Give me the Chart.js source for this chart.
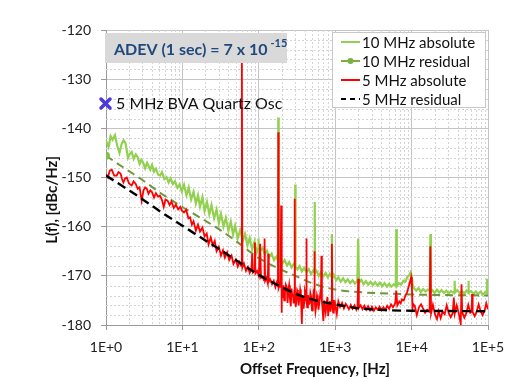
<!DOCTYPE html>
<html>
<head>
<meta charset="utf-8">
<script src="https://cdn.jsdelivr.net/npm/chart.js@4/dist/chart.umd.min.js"></script>
<style>
  html, body { margin: 0; padding: 0; background: #fff; }
  #wrap { width: 518px; height: 379px; position: relative; }
</style>
</head>
<body>
<div id="wrap"><canvas id="pn"></canvas></div>
<script>
// tick values
var xTicks = [1, 10, 100, 1000, 10000, 100000];
var yMin = -180, yMax = -120;

// residual (smooth) curves
var fRes = [1, 2, 3, 5, 10, 20, 30, 50, 100, 200, 300, 500, 1000, 2000, 5000, 10000, 100000];
var l10res = [-145.6, -148.7, -150.5, -153.0, -156.0, -158.8, -160.5, -162.9, -166.4, -168.8, -170.0, -171.5, -172.8, -173.3, -173.6, -173.8, -174.0];
var l5res = [-149.6, -152.6, -154.4, -156.8, -159.8, -162.8, -164.5, -166.8, -169.8, -172.3, -173.6, -174.8, -175.8, -176.6, -177.0, -177.1, -177.2];

// 10 MHz absolute (measured)
var f10abs = [1, 1.08, 1.15, 1.22, 1.31, 1.4, 1.5, 1.6, 1.7, 1.8, 1.94, 2.05, 2.17, 2.3, 2.45, 2.6, 2.75, 2.9, 3.05, 3.25,
  3.45, 3.6, 3.8, 4.0, 4.25, 4.5, 4.8, 5.1, 5.4, 5.8, 6.2, 6.6, 7.0, 7.5, 8.0, 8.6, 9.2, 9.8,
  10.5, 11.3, 12.1, 13, 14, 15, 16, 17, 18.3, 19.5, 21, 22.5, 24, 26, 28, 30, 32, 34.5, 37, 40, 43, 46, 49, 53, 57,
  62, 66, 71, 76, 82, 88, 94, 98.5, 99, 99.5,
  105, 112, 120, 128, 137, 147, 158, 170, 178, 180, 182, 190, 204, 218, 234, 250, 268, 287, 297, 300, 303,
  320, 342, 366, 392, 420, 450, 482, 515, 535, 540, 545, 570, 610, 655, 700, 750, 800, 850, 895, 905, 915, 960,
  1030, 1100, 1180, 1270, 1360, 1460, 1570, 1690, 1810, 1950, 2000, 2050, 2200, 2350, 2520, 2700, 2900, 3110, 3330,
  3580, 3840, 4120, 4420, 4740, 5080, 5450, 5850, 6200, 6300, 6400, 6800, 7300, 7800, 8300, 8800, 9300, 9700, 10000,
  10300, 10800, 11500, 12300, 13200, 14200, 15200, 16300, 17300, 17600, 17900, 18700, 20000, 21500, 23000, 24700,
  26500, 28400, 30500, 32700, 35000, 36200, 36600, 37000, 39500, 42400, 45500, 48800, 52300, 55200, 55600, 56000,
  60000, 64500, 69200, 74300, 79700, 85500, 91700, 96000, 97000, 98000, 100000];
var l10abs = [-142.5, -143.8, -141.6, -142.3, -141.4, -143.5, -145.0, -143.2, -142.4, -143.0, -146.0, -145.2, -144.8, -146.2, -145.3, -145.9, -147.2, -146.4, -146.9, -148.1,
  -147.0, -147.6, -148.4, -147.5, -148.8, -148.2, -149.4, -149.6, -148.9, -150.3, -149.9, -151.0, -150.2, -151.3, -150.8, -152.1, -151.4, -152.8,
  -151.5, -153.6, -152.0, -154.5, -152.9, -155.3, -153.6, -155.9, -154.0, -156.8, -155.0, -157.5, -155.6, -158.3, -156.5, -159.3, -157.4, -160.0, -158.2, -160.8, -159.0, -161.6, -159.8, -162.4, -160.7,
  -162.8, -161.5, -163.8, -162.3, -164.6, -163.0, -165.3, -164.3, -162.4, -164.6,
  -164.9, -164.3, -165.6, -164.9, -166.2, -165.5, -166.8, -166.1, -166.9, -137.8, -167.0, -166.4, -167.5, -166.8, -167.9, -167.2, -168.3, -167.6, -168.0, -151.4, -168.2,
  -168.7, -168.0, -169.1, -168.4, -169.3, -168.6, -169.6, -168.9, -169.3, -155.0, -169.4, -169.0, -170.0, -169.2, -170.1, -169.4, -170.3, -169.6, -170.2, -161.5, -170.5, -169.8,
  -170.9, -170.3, -171.2, -170.5, -171.3, -170.7, -171.5, -170.9, -171.6, -171.0, -162.4, -171.4, -170.8, -171.7, -171.1, -171.8, -171.2, -171.9, -171.3,
  -172.0, -171.4, -172.1, -171.5, -172.2, -171.6, -172.2, -171.7, -172.0, -160.5, -172.1, -171.5, -171.8, -171.0, -171.2, -170.2, -169.9, -169.3, -170.0,
  -171.8, -172.6, -173.0, -172.5, -173.3, -172.7, -173.2, -172.8, -173.1, -161.5, -173.3, -172.9, -173.5, -172.8, -173.4, -172.9,
  -173.5, -173.0, -173.6, -173.1, -173.4, -173.2, -171.0, -173.4, -172.9, -173.5, -173.1, -173.6, -173.0, -173.3, -171.0, -173.4,
  -173.1, -173.7, -173.2, -173.7, -173.2, -173.8, -173.3, -173.5, -170.6, -173.6, -173.5];

// 5 MHz absolute (measured)
var f5abs = [1, 1.06, 1.12, 1.19, 1.28, 1.38, 1.46, 1.55, 1.62, 1.69, 1.78, 1.87, 2.0, 2.17, 2.3, 2.45, 2.6, 2.75, 2.93, 3.1,
  3.25, 3.42, 3.6, 3.8, 4.0, 4.25, 4.5, 4.8, 5.1, 5.4, 5.7, 6.0, 6.4, 6.8, 7.2, 7.7, 8.2, 8.8, 9.4, 9.8,
  10.5, 11.2, 12, 12.6, 13.3, 14, 15, 16, 17, 18.3, 19.5, 20.8, 22, 23.5, 25, 26.5, 28, 30, 32, 34, 36, 38.5, 41, 44, 46.6, 50,
  53, 56, 59, 60, 61, 64, 68, 72, 76, 80, 82, 84, 88, 89, 90.5, 95, 100, 104, 107, 112, 117, 119, 121, 126, 131, 133, 135,
  141, 149, 157, 165, 172, 178, 180, 182, 189, 193, 196, 198, 201, 205, 210, 215, 220, 226, 232, 238, 243, 249, 255, 262, 268, 274, 280, 286, 292, 295, 298,
  304, 310, 318, 325, 332, 340, 348, 355, 360, 366, 372, 378, 386, 395, 402, 410, 418, 420, 423, 430, 440, 450, 462, 473, 485, 497, 510, 520, 530, 535, 540,
  552, 565, 578, 590, 605, 620, 635, 650, 660, 670, 685, 700, 715, 730, 750, 770, 790, 810, 830, 850, 870, 890, 905, 920, 940, 960, 980,
  1000, 1050, 1100, 1160, 1230, 1300, 1370, 1430, 1510, 1600, 1690, 1790, 1890, 1960, 2000, 2040, 2150, 2280, 2410, 2550,
  2700, 2860, 3030, 3210, 3400, 3600, 3810, 4040, 4280, 4530, 4800, 5080, 5380, 5700, 6100, 6300, 6500, 6900, 7200, 7500,
  7900, 8300, 8700, 9000, 9300, 9600, 9850, 10100, 10300, 10600, 11000, 11700, 12500, 13300, 14200, 15000, 16000,
  17200, 17600, 18000, 19000, 20200, 21500, 22600, 24000, 25500, 27100, 28800, 30600, 32500, 34500, 35700, 36700,
  39000, 41500, 44000, 45000, 46000, 49000, 52000, 55200, 58600, 61000, 62000, 63000, 67000, 71000, 75500, 80000,
  85000, 90000, 95000, 100000];
var l5abs = [-149.3, -150.0, -148.6, -148.4, -149.6, -149.6, -148.9, -149.2, -150.3, -151.0, -150.2, -150.0, -151.2, -151.6, -150.8, -151.3, -152.3, -152.0, -154.7, -152.6,
  -152.0, -152.3, -153.3, -152.6, -153.0, -154.1, -153.2, -153.9, -153.7, -154.6, -156.0, -154.5, -154.7, -155.6, -154.9, -156.2, -155.5, -156.5, -156.0, -156.7,
  -157.1, -156.6, -158.3, -158.1, -159.6, -158.9, -160.8, -159.6, -161.0, -160.2, -162.0, -161.4, -163.6, -162.2, -163.8, -162.9, -165.0, -164.1, -165.9, -164.8, -166.3, -165.2, -166.8, -165.9, -167.6, -166.7,
  -168.1, -167.2, -168.0, -126.7, -168.3, -167.5, -169.0, -168.2, -169.4, -168.6, -165.5, -169.3, -168.9, -163.2, -169.5, -169.0, -170.0, -163.5, -170.4, -170.2, -170.9, -162.4, -171.0, -170.4, -171.5, -165.5, -171.2,
  -170.7, -171.7, -171.0, -172.3, -171.3, -172.0, -140.8, -172.4, -171.6, -172.4, -155.7, -177.5, -172.2, -174.5, -171.9, -175.0, -173.4, -171.8, -172.3, -175.5, -173.0, -171.9, -174.5, -176.2, -172.6, -174.0, -173.8, -175.6, -173.0, -154.3, -173.9,
  -176.3, -175.2, -172.9, -173.3, -176.0, -174.6, -172.8, -173.7, -176.5, -179.8, -174.2, -174.0, -176.7, -175.0, -173.2, -173.8, -174.5, -162.4, -174.8, -176.4, -173.9, -175.8, -175.6, -173.5, -174.3, -177.0, -175.1, -173.6, -174.2, -165.0, -174.8,
  -177.2, -176.0, -174.0, -174.6, -176.9, -175.4, -173.9, -174.8, -165.9, -175.3, -177.0, -179.2, -175.0, -175.0, -177.4, -175.9, -174.3, -178.2, -175.6, -175.1, -177.3, -175.7, -163.5, -175.8, -177.5, -174.9, -176.5,
  -175.8, -177.8, -175.2, -176.3, -175.5, -176.6, -175.7, -176.1, -176.8, -175.9, -176.7, -176.0, -176.9, -176.2, -170.6, -176.5, -176.0, -176.8, -176.1, -176.9,
  -176.2, -177.0, -176.3, -177.1, -176.4, -176.9, -176.3, -177.0, -176.4, -176.9, -176.1, -176.7, -175.8, -176.4, -175.6, -173.0, -176.0, -175.2, -175.6, -174.8,
  -175.0, -174.0, -173.4, -172.6, -171.8, -171.0, -170.3, -172.5, -176.5, -175.8, -176.1, -178.0, -176.4, -175.8, -176.7, -177.5, -176.9,
  -177.3, -164.0, -177.6, -175.9, -177.8, -178.8, -177.2, -178.6, -177.3, -177.8, -176.0, -177.6, -178.4, -177.6, -174.4, -177.7,
  -176.0, -177.7, -179.8, -171.7, -177.4, -178.5, -177.6, -175.9, -177.5, -177.3, -173.7, -177.4, -178.2, -177.3, -175.8, -177.2,
  -178.0, -177.1, -175.6, -176.8];

function pts(xs, ys) {
  return xs.map(function (x, i) { return { x: x, y: ys[i] }; });
}

var font = "Lato, 'Open Sans', sans-serif";

var extras = {
  id: "extras",
  beforeDatasetsDraw: function (chart) {
    var ctx = chart.ctx, a = chart.chartArea;
    var xs = chart.scales.x, ys = chart.scales.y;
    ctx.save();
    ctx.strokeStyle = "#d4d4d4";
    ctx.lineWidth = 1;
    ctx.setLineDash([2, 2]);
    for (var d = 1; d < 100000; d *= 10) {
      for (var k = 2; k <= 9; k++) {
        var px = Math.round(xs.getPixelForValue(k * d)) + 0.5;
        ctx.beginPath(); ctx.moveTo(px, a.top); ctx.lineTo(px, a.bottom); ctx.stroke();
      }
    }
    for (var v = yMin + 2; v < yMax; v += 2) {
      if (v % 10 === 0) continue;
      var py = Math.round(ys.getPixelForValue(v)) + 0.5;
      ctx.beginPath(); ctx.moveTo(a.left, py); ctx.lineTo(a.right, py); ctx.stroke();
    }
    ctx.restore();
  },
  afterDatasetsDraw: function (chart) {
    var ctx = chart.ctx;
    ctx.save();
    // ADEV box
    ctx.fillStyle = "#d9d9d9";
    ctx.fillRect(105, 33, 182, 30);
    ctx.fillStyle = "#1f497d";
    ctx.font = "bold 16px " + font;
    ctx.textBaseline = "alphabetic";
    ctx.textAlign = "left";
    var t = "ADEV (1 sec) = 7 x 10";
    ctx.fillText(t, 114, 55);
    var w = ctx.measureText(t).width;
    ctx.font = "bold 11px " + font;
    ctx.fillText("-15", 114 + w + 3, 47);

    // oscillator label
    ctx.strokeStyle = "#4b3ae0";
    ctx.lineWidth = 3.5;
    ctx.lineCap = "round";
    ctx.beginPath();
    ctx.moveTo(101, 99); ctx.lineTo(110, 108);
    ctx.moveTo(110, 99); ctx.lineTo(101, 108);
    ctx.stroke();
    ctx.fillStyle = "#111";
    ctx.font = "16px " + font;
    ctx.fillText("5 MHz BVA Quartz Osc", 116, 109);

    // legend
    ctx.fillStyle = "#fff";
    ctx.fillRect(332, 32, 153, 75);
    ctx.strokeStyle = "#c8c8c8";
    ctx.lineWidth = 1;
    ctx.setLineDash([]);
    ctx.strokeRect(332.5, 32.5, 153, 75);
    var rows = [42, 61, 80, 99];
    ctx.font = "15px " + font;
    ctx.textBaseline = "middle";
    chart.data.datasets.forEach(function (ds, i) {
      var y = rows[i];
      ctx.strokeStyle = ds.legendColor || ds.borderColor;
      ctx.lineWidth = 2;
      ctx.lineCap = "butt";
      ctx.setLineDash(ds.legendDash || []);
      ctx.beginPath(); ctx.moveTo(341, y); ctx.lineTo(360, y); ctx.stroke();
      ctx.setLineDash([]);
      if (ds.legendDot) {
        ctx.fillStyle = ds.legendColor;
        ctx.beginPath(); ctx.arc(350.5, y, 3, 0, Math.PI * 2); ctx.fill();
      }
      ctx.fillStyle = "#111";
      ctx.fillText(ds.label, 362, y + 1);
    });

    // axis titles
    ctx.fillStyle = "#111";
    ctx.font = "bold 15px " + font;
    ctx.textAlign = "center";
    ctx.fillText("Offset Frequency, [Hz]", 315, 369);
    ctx.translate(52, 200);
    ctx.rotate(-Math.PI / 2);
    ctx.fillText("L(f), [dBc/Hz]", 0, 0);
    ctx.restore();
  }
};

new Chart(document.getElementById("pn"), {
  type: "line",
  data: {
    datasets: [
      {
        label: "10 MHz absolute",
        data: pts(f10abs, l10abs),
        borderColor: "#92d050",
        borderWidth: 2.2,
        pointRadius: 0,
        order: 4
      },
      {
        label: "10 MHz residual",
        data: pts(fRes, l10res),
        borderColor: "#6f9638",
        legendColor: "#77b140",
        legendDot: true,
        borderWidth: 2,
        borderDash: [8, 5],
        cubicInterpolationMode: "monotone",
        pointRadius: function (c) { return c.dataIndex === 0 ? 4 : 0; },
        pointBackgroundColor: "#80c050",
        pointBorderWidth: 0,
        order: 3
      },
      {
        label: "5 MHz absolute",
        data: pts(f5abs, l5abs),
        borderColor: "#ff0000",
        borderWidth: 1.8,
        pointRadius: 0,
        order: 2
      },
      {
        label: "5 MHz residual",
        data: pts(fRes, l5res),
        borderColor: "#000000",
        legendDash: [5, 4],
        borderWidth: 2.4,
        borderDash: [9, 5],
        cubicInterpolationMode: "monotone",
        pointRadius: 0,
        order: 1
      }
    ]
  },
  options: {
    responsive: true,
    maintainAspectRatio: false,
    animation: false,
    devicePixelRatio: 1,
    layout: { padding: { top: 30, right: 30, left: 0, bottom: 0 } },
    plugins: {
      legend: { display: false },
      tooltip: { enabled: false }
    },
    scales: {
      x: {
        type: "logarithmic",
        min: 1,
        max: 100000,
        afterBuildTicks: function (s) {
          s.ticks = xTicks.map(function (v) { return { value: v }; });
        },
        afterFit: function (s) { s.height = 54; },
        ticks: {
          autoSkip: false,
          maxRotation: 0,
          padding: 9,
          color: "#222",
          font: { family: font, size: 14 },
          callback: function (v) { return "1E+" + Math.round(Math.log10(v)); }
        },
        grid: { color: "#c4c4c4", tickLength: 5, tickColor: "#999" },
        border: { color: "#999" }
      },
      y: {
        min: yMin,
        max: yMax,
        afterFit: function (s) { s.width = 106; },
        ticks: {
          stepSize: 10,
          padding: 10,
          color: "#222",
          font: { family: font, size: 14 }
        },
        grid: { color: "#c4c4c4", tickLength: 5, tickColor: "#999" },
        border: { color: "#999" }
      }
    }
  },
  plugins: [extras]
});
</script>
</body>
</html>
